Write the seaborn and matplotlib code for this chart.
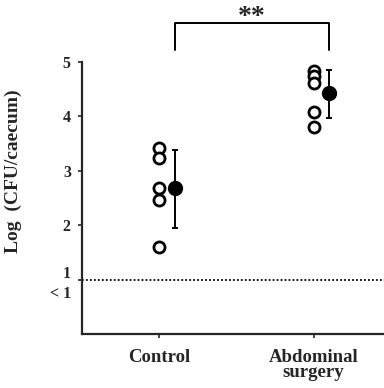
import matplotlib
matplotlib.use("Agg")
import matplotlib.pyplot as plt
import seaborn as sns
import pandas as pd

# Data
groups = ["Control", "Abdominal\nsurgery"]
control_vals = [3.42, 3.24, 2.68, 2.46, 1.60]
surgery_vals = [4.83, 4.74, 4.61, 4.08, 3.80]
means = [2.68, 4.43]
err_low = [0.73, 0.46]
err_high = [0.70, 0.42]
ytick_vals = [1, 2, 3, 4, 5]
ytick_labels = ["1\n< 1", "2", "3", "4", "5"]
ylabel = "Log  (CFU/caecum)"
sig_label = "**"

df = pd.DataFrame({
    "group": [groups[0]] * len(control_vals) + [groups[1]] * len(surgery_vals),
    "value": control_vals + surgery_vals,
})

sns.set_style("ticks")
plt.rcParams["font.family"] = ["Liberation Serif", "DejaVu Serif"]
plt.rcParams["font.weight"] = "bold"

fig = plt.figure(figsize=(3.84, 3.88), dpi=100)
ax = fig.add_axes([0.2135, 0.139, 0.80, 0.701])

sns.stripplot(data=df, x="group", y="value", order=groups, jitter=False,
              color="white", edgecolor="black", linewidth=2.0, size=8,
              ax=ax, zorder=3)

xs = [i + 0.1 for i in range(len(groups))]
ax.errorbar(xs, means, yerr=[err_low, err_high], fmt="o", color="black",
            markersize=10, elinewidth=1.4, capsize=2.5, capthick=1.4, zorder=4)

ax.axhline(1, color="black", linestyle=(0, (1, 1.2)), linewidth=1.3, zorder=1)

ax.set_xlim(-0.5, 1.49)
ax.set_ylim(0, 5)
ax.set_yticks(ytick_vals)
ax.set_yticklabels(ytick_labels, fontsize=11.5, fontweight="bold", linespacing=1.35)
ax.set_xticks(range(len(groups)))
ax.set_xticklabels(groups, fontsize=13.5, fontweight="bold", linespacing=0.85)
ax.set_xlabel("")
ax.set_ylabel(ylabel, fontsize=14, fontweight="bold")
ax.yaxis.set_label_coords(-0.195, 0.60)
ax.tick_params(axis="both", direction="out", length=3, width=1.2, pad=5)
ax.tick_params(axis="x", pad=8)

sns.despine(ax=ax, top=True, right=True)
for s in ["left", "bottom"]:
    ax.spines[s].set_linewidth(1.6)

# significance bracket
y_bar, y_leg = 5.72, 5.22
ax.plot([xs[0], xs[0], xs[1], xs[1]], [y_leg, y_bar, y_bar, y_leg],
        color="black", linewidth=1.4, clip_on=False)
ax.text((xs[0] + xs[1]) / 2, y_bar + 0.1, sig_label, ha="center", va="center",
        fontsize=20, fontweight="bold", clip_on=False)

fig.savefig("out.png", dpi=100)
